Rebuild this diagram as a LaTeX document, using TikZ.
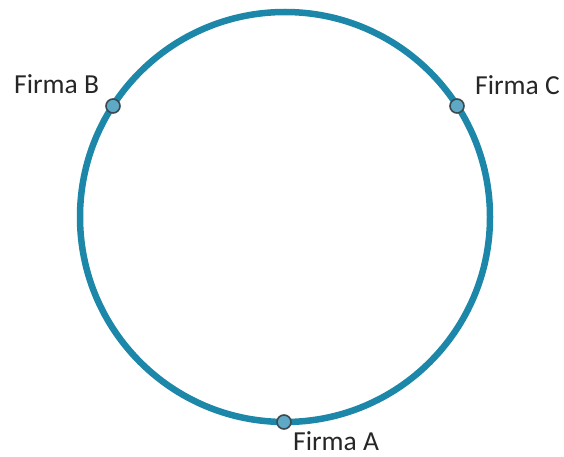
\documentclass[tikz,border=0pt]{standalone}
\usepackage{fontspec}
\setmainfont{Carlito}
\definecolor{ring}{HTML}{1C87A8}
\definecolor{dotfill}{HTML}{5EA9C6}
\definecolor{dotline}{HTML}{3A4A50}
\begin{document}
\begin{tikzpicture}[x=1pt,y=-1pt,
  firm/.style={circle,draw=dotline,fill=dotfill,line width=1.6pt,minimum size=14pt,inner sep=0pt},
  lab/.style={font=\fontsize{27.5}{30}\selectfont,text=black!85,inner sep=0pt,anchor=base west}]
\useasboundingbox (0,0) rectangle (564,457);
\coordinate (c) at (285,217);
\draw[ring,line width=6.5pt] (c) circle[radius=205];
\node[firm] (B) at (113,106) {};
\node[firm] (C) at (457,106) {};
\node[firm] (A) at (284,422) {};
\node[lab] (lB) at (14,94) {Firma B};
\node[lab] (lC) at (475,95) {Firma C};
\node[lab] (lA) at (293,450) {Firma A};
\end{tikzpicture}
\end{document}
